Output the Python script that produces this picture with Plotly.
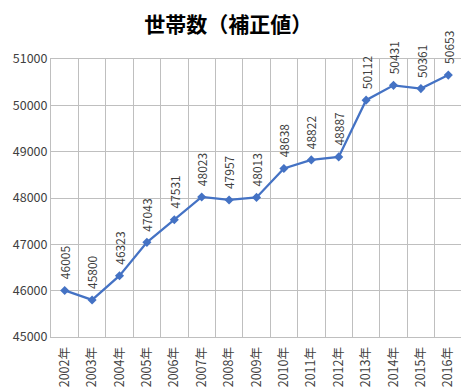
import plotly.graph_objects as go

years = ["2002年", "2003年", "2004年", "2005年", "2006年", "2007年", "2008年", "2009年",
         "2010年", "2011年", "2012年", "2013年", "2014年", "2015年", "2016年"]
households = [46005, 45800, 46323, 47043, 47531, 48023, 47957, 48013,
              48638, 48822, 48887, 50112, 50431, 50361, 50653]

FONT = "Noto Sans CJK JP"
GRID = "#bfbfbf"

fig = go.Figure()
fig.add_trace(go.Scatter(
    x=years, y=households, mode="lines+markers",
    line=dict(color="#4472C4", width=2.25),
    marker=dict(symbol="diamond", size=7, color="#4472C4"),
    hoverinfo="x+y", showlegend=False,
))

for yr, v in zip(years, households):
    fig.add_annotation(
        x=yr, y=v, text=str(v), textangle=-90, showarrow=False,
        xanchor="center", yanchor="bottom", yshift=9,
        font=dict(family=FONT, size=12, color="#404040"),
    )

# the page body has an 8px default margin, so the figure is sized to fit the window
fig.update_layout(
    width=461, height=381,
    margin=dict(l=43, r=7, t=51, b=52, autoexpand=False),
    paper_bgcolor="white", plot_bgcolor="white",
    title=dict(text="<b>世帯数（補正値）</b>", x=0.478, xanchor="center", y=0.957, yanchor="middle",
               font=dict(family=FONT, size=21, color="#000000")),
    font=dict(family=FONT, color="#404040"),
)
fig.update_xaxes(
    type="category", tickson="boundaries", tickangle=-90, automargin=False,
    showgrid=True, gridcolor=GRID, gridwidth=1,
    showline=True, linecolor=GRID, mirror=True,
    ticks="", ticklabelstandoff=4, tickfont=dict(family=FONT, size=12.5, color="#404040"),
    range=[-0.5, 14.5],
)
fig.update_yaxes(
    range=[45000, 51000], dtick=1000, tickformat="d", automargin=False,
    showgrid=True, gridcolor=GRID, gridwidth=1,
    showline=True, linecolor=GRID, mirror=True, zeroline=False,
    ticks="", tickfont=dict(family=FONT, size=12.5, color="#404040"),
)

fig.write_html("out.html")
